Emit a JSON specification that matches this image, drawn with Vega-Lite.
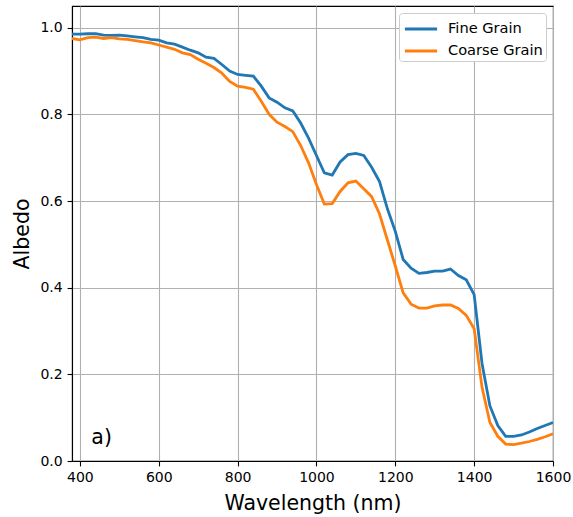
{
  "$schema": "https://vega.github.io/schema/vega-lite/v6.json",
  "autosize": "none",
  "width": 481,
  "height": 455,
  "padding": {"left": 72, "top": 6, "right": 20, "bottom": 56},
  "background": "white",
  "config": {
    "font": "DejaVu Sans",
    "view": {"stroke": "black", "strokeWidth": 1.1},
    "axis": {
      "grid": true,
      "gridColor": "#b0b0b0",
      "gridWidth": 1.1,
      "domainColor": "black",
      "domainWidth": 1.1,
      "tickColor": "black",
      "tickSize": 4.9,
      "tickWidth": 1.1,
      "labelFontSize": 14,
      "labelColor": "black",
      "labelPadding": 4.9,
      "labelFlush": false,
      "titleFontSize": 20.5,
      "titleFontWeight": "normal",
      "titleColor": "black"
    },
    "legend": {
      "orient": "top-right",
      "offset": 7,
      "strokeColor": "#cccccc",
      "fillColor": "white",
      "cornerRadius": 3,
      "padding": 3,
      "labelFontSize": 14.6,
      "labelColor": "black",
      "labelExpr": "datum.label + ' '",
      "symbolType": "M-1.4,0H1.4",
      "symbolSize": 529,
      "symbolStrokeWidth": 2.8,
      "symbolOffset": 6,
      "labelOffset": 14,
      "rowPadding": 2,
      "title": null
    }
  },
  "data": {
    "values": [
      {"wl": 380, "fine": 0.985, "coarse": 0.975},
      {"wl": 400, "fine": 0.985, "coarse": 0.972},
      {"wl": 420, "fine": 0.986, "coarse": 0.977},
      {"wl": 440, "fine": 0.986, "coarse": 0.978},
      {"wl": 460, "fine": 0.983, "coarse": 0.975},
      {"wl": 480, "fine": 0.982, "coarse": 0.977},
      {"wl": 500, "fine": 0.983, "coarse": 0.974},
      {"wl": 520, "fine": 0.981, "coarse": 0.973},
      {"wl": 540, "fine": 0.979, "coarse": 0.970},
      {"wl": 560, "fine": 0.977, "coarse": 0.967},
      {"wl": 580, "fine": 0.973, "coarse": 0.965},
      {"wl": 600, "fine": 0.971, "coarse": 0.960},
      {"wl": 620, "fine": 0.965, "coarse": 0.955},
      {"wl": 640, "fine": 0.962, "coarse": 0.950},
      {"wl": 660, "fine": 0.955, "coarse": 0.942},
      {"wl": 680, "fine": 0.948, "coarse": 0.938},
      {"wl": 700, "fine": 0.942, "coarse": 0.927},
      {"wl": 720, "fine": 0.932, "coarse": 0.918},
      {"wl": 740, "fine": 0.929, "coarse": 0.908},
      {"wl": 760, "fine": 0.915, "coarse": 0.895},
      {"wl": 780, "fine": 0.900, "coarse": 0.876},
      {"wl": 800, "fine": 0.892, "coarse": 0.865},
      {"wl": 820, "fine": 0.890, "coarse": 0.862},
      {"wl": 840, "fine": 0.888, "coarse": 0.858},
      {"wl": 860, "fine": 0.865, "coarse": 0.830},
      {"wl": 880, "fine": 0.838, "coarse": 0.800},
      {"wl": 900, "fine": 0.828, "coarse": 0.782},
      {"wl": 920, "fine": 0.815, "coarse": 0.772},
      {"wl": 940, "fine": 0.808, "coarse": 0.760},
      {"wl": 960, "fine": 0.780, "coarse": 0.728},
      {"wl": 980, "fine": 0.745, "coarse": 0.688},
      {"wl": 1000, "fine": 0.705, "coarse": 0.638},
      {"wl": 1020, "fine": 0.665, "coarse": 0.593},
      {"wl": 1040, "fine": 0.660, "coarse": 0.594},
      {"wl": 1060, "fine": 0.690, "coarse": 0.622},
      {"wl": 1080, "fine": 0.707, "coarse": 0.642},
      {"wl": 1100, "fine": 0.710, "coarse": 0.646},
      {"wl": 1120, "fine": 0.705, "coarse": 0.628},
      {"wl": 1140, "fine": 0.678, "coarse": 0.610},
      {"wl": 1160, "fine": 0.645, "coarse": 0.570},
      {"wl": 1180, "fine": 0.582, "coarse": 0.510},
      {"wl": 1200, "fine": 0.530, "coarse": 0.450},
      {"wl": 1220, "fine": 0.465, "coarse": 0.388},
      {"wl": 1240, "fine": 0.445, "coarse": 0.362},
      {"wl": 1260, "fine": 0.433, "coarse": 0.353},
      {"wl": 1280, "fine": 0.435, "coarse": 0.353},
      {"wl": 1300, "fine": 0.438, "coarse": 0.358},
      {"wl": 1320, "fine": 0.438, "coarse": 0.360},
      {"wl": 1340, "fine": 0.443, "coarse": 0.360},
      {"wl": 1360, "fine": 0.428, "coarse": 0.352},
      {"wl": 1380, "fine": 0.418, "coarse": 0.336},
      {"wl": 1400, "fine": 0.384, "coarse": 0.305},
      {"wl": 1420, "fine": 0.225, "coarse": 0.170},
      {"wl": 1440, "fine": 0.127, "coarse": 0.089},
      {"wl": 1460, "fine": 0.082, "coarse": 0.057},
      {"wl": 1480, "fine": 0.057, "coarse": 0.039},
      {"wl": 1500, "fine": 0.057, "coarse": 0.038},
      {"wl": 1520, "fine": 0.060, "coarse": 0.041},
      {"wl": 1540, "fine": 0.067, "coarse": 0.045},
      {"wl": 1560, "fine": 0.075, "coarse": 0.050},
      {"wl": 1580, "fine": 0.082, "coarse": 0.056},
      {"wl": 1600, "fine": 0.089, "coarse": 0.063}
    ]
  },
  "layer": [
    {
      "transform": [
        {"fold": ["fine", "coarse"], "as": ["key", "albedo"]},
        {"calculate": "datum.key === 'fine' ? 'Fine Grain' : 'Coarse Grain'", "as": "series"}
      ],
      "mark": {"type": "line", "strokeWidth": 2.8, "clip": true},
      "encoding": {
        "x": {
          "field": "wl",
          "type": "quantitative",
          "title": "Wavelength (nm)",
          "scale": {"domain": [380, 1600], "nice": false, "zero": false},
          "axis": {"values": [400, 600, 800, 1000, 1200, 1400, 1600], "format": "d", "titlePadding": 9}
        },
        "y": {
          "field": "albedo",
          "type": "quantitative",
          "title": "Albedo",
          "scale": {"domain": [0, 1.05], "nice": false},
          "axis": {"values": [0, 0.2, 0.4, 0.6, 0.8, 1.0], "format": ".1f", "titlePadding": 7}
        },
        "color": {
          "field": "series",
          "type": "nominal",
          "scale": {"domain": ["Fine Grain", "Coarse Grain"], "range": ["#1f77b4", "#ff7f0e"]},
          "legend": {}
        },
        "order": {"field": "wl", "type": "quantitative"}
      }
    },
    {
      "data": {"values": [{"label": "a)"}]},
      "mark": {"type": "text", "fontSize": 20.5, "align": "left", "baseline": "middle", "color": "black"},
      "encoding": {
        "text": {"field": "label"},
        "x": {"datum": 429, "type": "quantitative"},
        "y": {"datum": 0.052, "type": "quantitative"}
      }
    }
  ]
}
